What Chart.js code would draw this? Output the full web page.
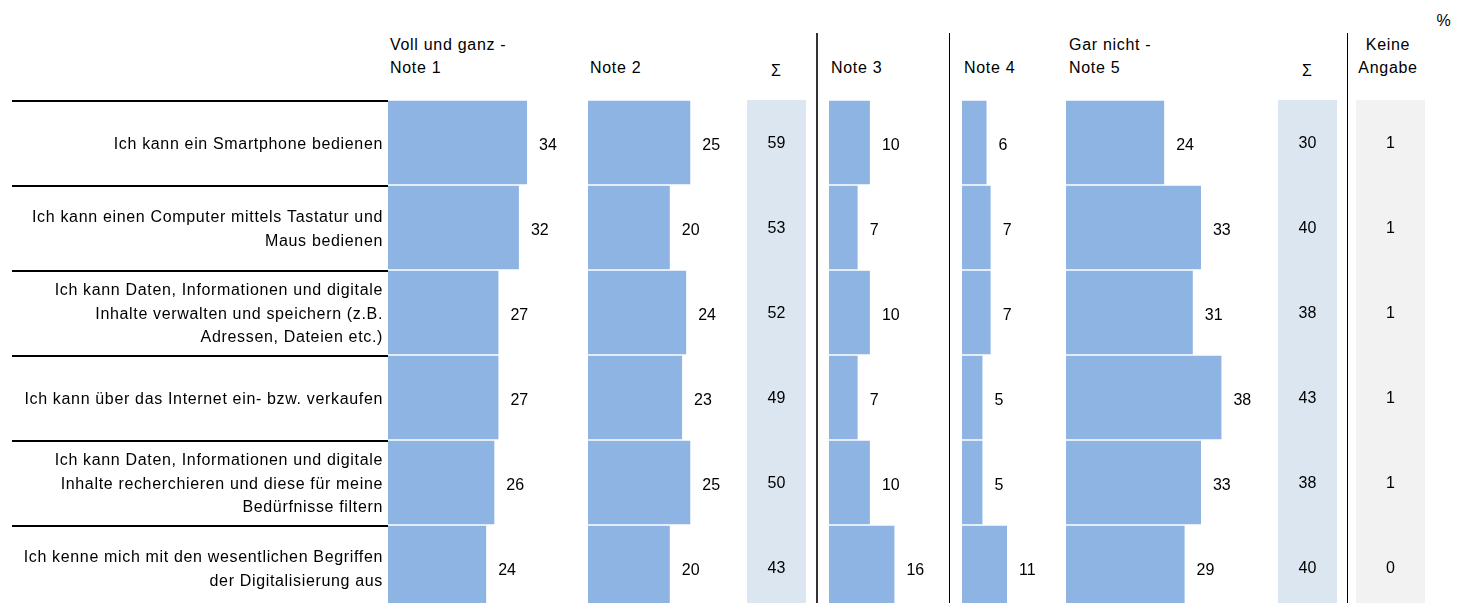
<!DOCTYPE html>
<html>
<head>
<meta charset="utf-8">
<script src="https://cdn.jsdelivr.net/npm/chart.js@4/dist/chart.umd.min.js"></script>
<style>
  html, body { margin: 0; padding: 0; background: #fff; }
  #wrap { position: relative; width: 1465px; height: 603px; overflow: hidden; font-family: "Liberation Sans", Arial, sans-serif; font-size: 16px; color: #000; }
  .hdr { position: absolute; line-height: 23px; white-space: nowrap; letter-spacing: 0.7px; }
  .ctr { text-align: center; }
  .vline { position: absolute; top: 33px; height: 580px; width: 1px; background: #000; }
  canvas { position: absolute; }
</style>
</head>
<body>
<div id="wrap">
  <div class="hdr" style="left:390px; top:33px;">Voll und ganz -<br>Note 1</div>
  <div class="hdr" style="left:590px; top:56px;">Note 2</div>
  <div class="hdr ctr" style="left:746px; width:60px; top:59px; letter-spacing:0;">&Sigma;</div>
  <div class="hdr" style="left:831px; top:56px;">Note 3</div>
  <div class="hdr" style="left:964px; top:56px;">Note 4</div>
  <div class="hdr" style="left:1069px; top:33px;">Gar nicht -<br>Note 5</div>
  <div class="hdr ctr" style="left:1277px; width:60px; top:59px; letter-spacing:0;">&Sigma;</div>
  <div class="hdr ctr" style="left:1348px; width:80px; top:33px;">Keine<br>Angabe</div>
  <div class="hdr ctr" style="left:1424px; width:40px; top:9px;">%</div>
  <div class="vline" style="left:816px; width:2px; background:#333;"></div>
  <div class="vline" style="left:949px;"></div>
  <div class="vline" style="left:1347px;"></div>

  <canvas id="c1" width="588" height="510" style="left:0px; top:100px;"></canvas>
  <canvas id="c2" width="159" height="510" style="left:588px; top:100px;"></canvas>
  <canvas id="c3" width="59" height="510" style="left:747px; top:100px;"></canvas>
  <canvas id="c4" width="120" height="510" style="left:829px; top:100px;"></canvas>
  <canvas id="c5" width="104" height="510" style="left:962px; top:100px;"></canvas>
  <canvas id="c6" width="212" height="510" style="left:1066px; top:100px;"></canvas>
  <canvas id="c7" width="59" height="510" style="left:1278px; top:100px;"></canvas>
  <canvas id="c8" width="69" height="510" style="left:1356px; top:100px;"></canvas>
</div>
<script>
// ---- Data ----
const categories = [
  ["Ich kann ein Smartphone bedienen"],
  ["Ich kann einen Computer mittels Tastatur und", "Maus bedienen"],
  ["Ich kann Daten, Informationen und digitale", "Inhalte verwalten und speichern (z.B.", "Adressen, Dateien etc.)"],
  ["Ich kann über das Internet ein- bzw. verkaufen"],
  ["Ich kann Daten, Informationen und digitale", "Inhalte recherchieren und diese für meine", "Bedürfnisse filtern"],
  ["Ich kenne mich mit den wesentlichen Begriffen", "der Digitalisierung aus"]
];
const note1 = [34, 32, 27, 27, 26, 24];
const note2 = [25, 20, 24, 23, 25, 20];
const sumTop = [59, 53, 52, 49, 50, 43];
const note3 = [10, 7, 10, 7, 10, 16];
const note4 = [6, 7, 7, 5, 5, 11];
const note5 = [24, 33, 31, 38, 33, 29];
const sumBottom = [30, 40, 38, 43, 38, 40];
const keineAngabe = [1, 1, 1, 1, 1, 0];

// ---- Styling ----
const FONT = '"Liberation Sans", Arial, sans-serif';
const PX_PER_UNIT = 4.09;
const BAR_COLOR = '#8EB4E3';
const LABEL_SPACING = '0.66px';
Chart.defaults.font.family = FONT;
Chart.defaults.font.size = 16;
Chart.defaults.color = '#000';

const spacing = {
  id: 'spacing',
  beforeUpdate(chart, args, opts) { if (opts.value) chart.ctx.letterSpacing = opts.value; },
  beforeLayout(chart, args, opts) { if (opts.value) chart.ctx.letterSpacing = opts.value; },
  beforeDraw(chart, args, opts) { if (opts.value) chart.ctx.letterSpacing = opts.value; }
};

const valueLabels = {
  id: 'valueLabels',
  afterDatasetsDraw(chart, args, opts) {
    const ctx = chart.ctx;
    const meta = chart.getDatasetMeta(0);
    const data = chart.data.datasets[0].data;
    ctx.save();
    ctx.letterSpacing = '0px';
    ctx.font = '16px ' + FONT;
    ctx.fillStyle = '#000';
    ctx.textBaseline = 'middle';
    meta.data.forEach((bar, i) => {
      if (opts.mode === 'center') {
        ctx.textAlign = 'center';
        ctx.fillText(String(data[i]), (chart.chartArea.left + chart.chartArea.right) / 2, bar.y + 1);
      } else {
        ctx.textAlign = 'left';
        ctx.fillText(String(data[i]), bar.x + 12, bar.y + 3);
      }
    });
    ctx.restore();
  }
};

const areaBg = {
  id: 'areaBg',
  beforeDraw(chart, args, opts) {
    if (!opts.color) return;
    const a = chart.chartArea;
    chart.ctx.save();
    chart.ctx.fillStyle = opts.color;
    chart.ctx.fillRect(a.left, a.top, a.right - a.left, a.bottom - a.top);
    chart.ctx.restore();
  }
};

const rowSeparators = {
  id: 'rowSeparators',
  afterDraw(chart, args, opts) {
    if (!opts.enabled) return;
    const y = chart.scales.y;
    const step = y.getPixelForValue(1) - y.getPixelForValue(0);
    const ctx = chart.ctx;
    ctx.save();
    ctx.strokeStyle = '#000';
    ctx.lineWidth = 2;
    for (let i = 0; i < categories.length; i++) {
      const py = Math.round(y.getPixelForValue(i) - step / 2) + 1;
      ctx.beginPath();
      ctx.moveTo(12, py);
      ctx.lineTo(chart.chartArea.left, py);
      ctx.stroke();
    }
    ctx.restore();
  }
};

function makeChart(id, values, opt) {
  const canvas = document.getElementById(id);
  const labelWidth = opt.labelWidth || 0;
  const plotWidth = canvas.width - labelWidth;
  return new Chart(canvas, {
    type: 'bar',
    data: {
      labels: categories,
      datasets: [{
        data: values,
        backgroundColor: opt.barColor || BAR_COLOR,
        borderWidth: 0,
        barPercentage: 1,
        categoryPercentage: 0.98
      }]
    },
    options: {
      indexAxis: 'y',
      responsive: false,
      animation: false,
      events: [],
      layout: { padding: 0 },
      scales: {
        x: { display: false, min: 0, max: plotWidth / PX_PER_UNIT },
        y: {
          display: labelWidth > 0,
          grid: { display: false, drawTicks: false },
          border: { display: false },
          ticks: { padding: 5, labelOffset: 2, font: { size: 16, lineHeight: 1.47 }, color: '#000' },
          afterFit(scale) {
            if (labelWidth > 0) {
              scale.width = labelWidth;
              scale.paddingTop = 0;
              scale.paddingBottom = 0;
            }
          }
        }
      },
      plugins: {
        legend: { display: false },
        tooltip: { enabled: false },
        spacing: { value: labelWidth > 0 ? LABEL_SPACING : null },
        valueLabels: { mode: opt.mode || 'end' },
        areaBg: { color: opt.bg || null },
        rowSeparators: { enabled: labelWidth > 0 }
      }
    },
    plugins: [spacing, valueLabels, areaBg, rowSeparators]
  });
}

makeChart('c1', note1, { labelWidth: 388 });
makeChart('c2', note2, {});
makeChart('c3', sumTop, { mode: 'center', bg: '#DCE6F1', barColor: 'rgba(0,0,0,0)' });
makeChart('c4', note3, {});
makeChart('c5', note4, {});
makeChart('c6', note5, {});
makeChart('c7', sumBottom, { mode: 'center', bg: '#DCE6F1', barColor: 'rgba(0,0,0,0)' });
makeChart('c8', keineAngabe, { mode: 'center', bg: '#F2F2F2', barColor: 'rgba(0,0,0,0)' });
</script>
</body>
</html>
